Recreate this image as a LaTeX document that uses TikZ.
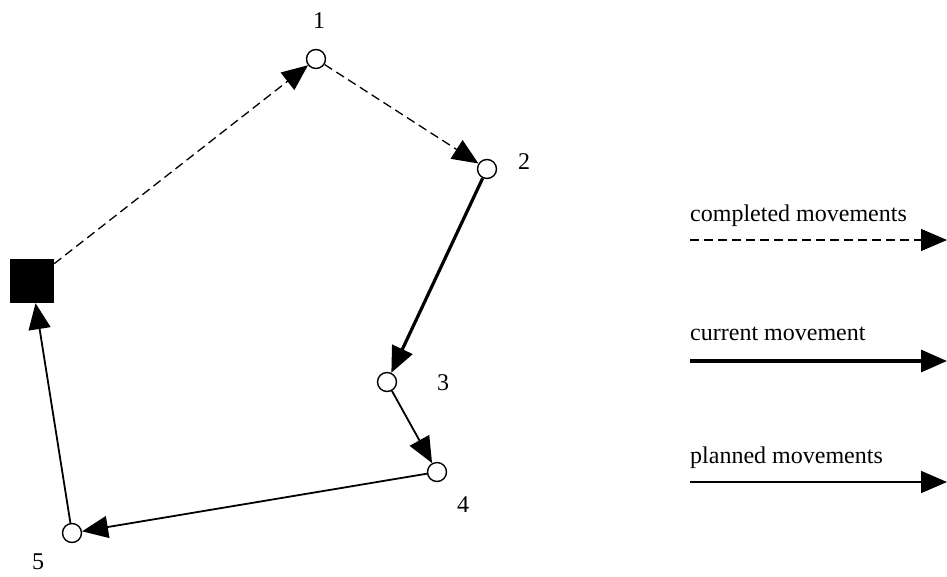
\documentclass[tikz,border=0pt]{standalone}
\usepackage{fontspec}
\setmainfont{Liberation Serif}
\usetikzlibrary{arrows.meta}
\begin{document}
\begin{tikzpicture}[x=1pt,y=-1pt,
  wp/.style={circle,draw,line width=1.4pt,fill=white,minimum size=19pt,inner sep=0pt},
  base/.style={rectangle,fill=black,minimum size=44pt,inner sep=0pt},
  lbl/.style={font=\fontsize{24}{27}\selectfont,inner sep=0pt},
  tip/.style={-{Triangle[length=26pt,width=22pt]}},
  done/.style={tip,line width=1.3pt,dash pattern=on 9pt off 5pt},
  cur/.style={tip,line width=3.2pt},
  plan/.style={tip,line width=1.8pt}]
\useasboundingbox (0,0) rectangle (947,576);
\node[base] (b) at (32,281) {};
\node[wp] (n1) at (316,59) {};
\node[wp] (n2) at (487,169) {};
\node[wp] (n3) at (387,382) {};
\node[wp] (n4) at (437,472) {};
\node[wp] (n5) at (72,533) {};
\node[lbl] (l1) at (319,21) {1};
\node[lbl] (l2) at (524,162) {2};
\node[lbl] (l3) at (443,383) {3};
\node[lbl] (l4) at (463,505) {4};
\node[lbl] (l5) at (38,562) {5};
\draw[done] (b) -- (n1);
\draw[done] (n1) -- (n2);
\draw[cur] (n2) -- (n3);
\draw[plan] (n3) -- (n4);
\draw[plan] (n4) -- (n5);
\draw[plan] (n5) -- (b);
% legend
\node[lbl,anchor=base west] (t1) at (690,221) {completed movements};
\node[lbl,anchor=base west] (t2) at (690,340) {current movement};
\node[lbl,anchor=base west] (t3) at (690,463) {planned movements};
\coordinate (a1) at (690,240); \coordinate (e1) at (947,240);
\coordinate (a2) at (690,361); \coordinate (e2) at (947,361);
\coordinate (a3) at (690,482); \coordinate (e3) at (947,482);
\draw[done] (a1) -- (e1);
\draw[cur] (a2) -- (e2);
\draw[plan] (a3) -- (e3);
\end{tikzpicture}
\end{document}
